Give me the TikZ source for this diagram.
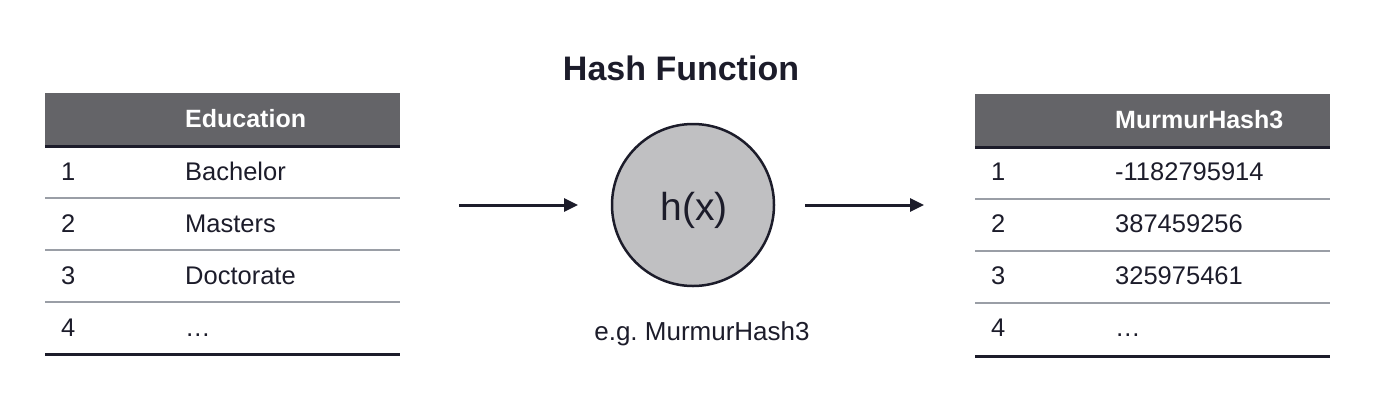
\documentclass[tikz,border=0pt]{standalone}
\usepackage{fontspec}
\setmainfont{Liberation Sans}
\usetikzlibrary{arrows.meta}

\definecolor{headgray}{HTML}{646468}
\definecolor{inkdark}{HTML}{1C1C2A}
\definecolor{rulegray}{HTML}{9A9EA6}
\definecolor{hashfill}{HTML}{C0C0C2}

\tikzset{
  celltext/.style={anchor=base west, inner sep=0pt, text=inkdark, font=\fontsize{25.5}{30}\selectfont},
  headtext/.style={anchor=base west, inner sep=0pt, text=white, font=\fontsize{25}{30}\selectfont\bfseries},
  thickrule/.style={draw=inkdark, line width=3pt},
  thinrule/.style={draw=rulegray, line width=1.6pt},
  flow/.style={draw=inkdark, line width=3pt, -{Triangle[length=14pt,width=13pt]}}
}

\begin{document}
\begin{tikzpicture}[x=1pt, y=1pt]
  \useasboundingbox (0,0) rectangle (1400,-416);

  % input table
  \fill[headgray] (45,-93) rectangle (400,-145);
  \node[headtext] (eduHead) at (185,-127) {Education};
  \draw[thickrule] (45,-146) -- (400,-146);
  \foreach \y in {198,250,302} \draw[thinrule] (45,-\y) -- (400,-\y);
  \draw[thickrule] (45,-354) -- (400,-354);
  \foreach \i/\val [count=\k from 0] in {1/Bachelor, 2/Masters, 3/Doctorate, 4/\dots} {
    \node[celltext] (eduNum\i) at (61,-180-52*\k) {\i};
    \node[celltext] (eduVal\i) at (185,-180-52*\k) {\val};
  }

  % hash function
  \node[font=\fontsize{34}{40}\selectfont\bfseries, text=inkdark, anchor=base, inner sep=0pt] (title) at (681,-80) {Hash Function};
  \node[circle, draw=inkdark, line width=2.5pt, fill=hashfill, minimum size=162pt, inner sep=0pt] (hash) at (693,-205) {};
  \node[font=\fontsize{39}{44}\selectfont, text=inkdark, anchor=base, inner sep=0pt] (hashLabel) at (694,-220) {h(x)};
  \node[font=\fontsize{26}{30}\selectfont, text=inkdark, anchor=base, inner sep=0pt] (example) at (702,-340) {e.g.\ MurmurHash3};

  % output table
  \fill[headgray] (975,-94) rectangle (1330,-146);
  \node[headtext] (mmHead) at (1115,-128) {MurmurHash3};
  \draw[thickrule] (975,-147) -- (1330,-147);
  \foreach \y in {199,251,303} \draw[thinrule] (975,-\y) -- (1330,-\y);
  \draw[thickrule] (975,-356) -- (1330,-356);
  \foreach \i/\val [count=\k from 0] in {1/-1182795914, 2/387459256, 3/325975461, 4/\dots} {
    \node[celltext] (mmNum\i) at (991,-180-52*\k) {\i};
    \node[celltext] (mmVal\i) at (1115,-180-52*\k) {\val};
  }

  % arrows
  \coordinate (inStart) at (459,-205);
  \coordinate (inEnd) at (578,-205);
  \coordinate (outStart) at (805,-205);
  \coordinate (outEnd) at (924,-205);
  \draw[flow] (inStart) -- (inEnd);
  \draw[flow] (outStart) -- (outEnd);
\end{tikzpicture}
\end{document}
